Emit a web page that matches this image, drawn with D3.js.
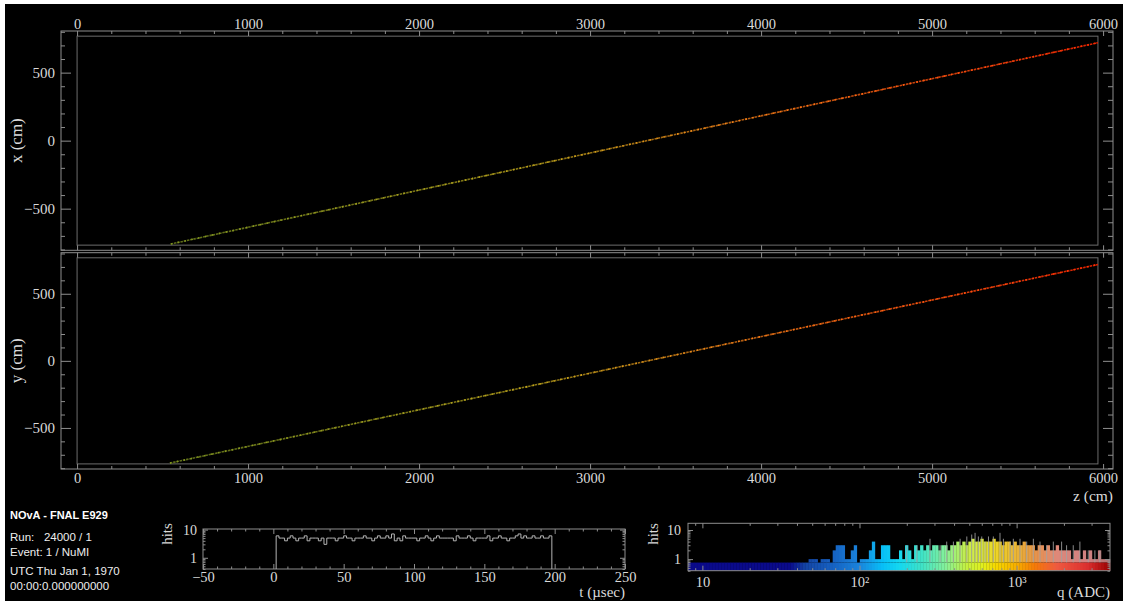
<!DOCTYPE html>
<html>
<head>
<meta charset="utf-8">
<script src="https://cdn.jsdelivr.net/npm/d3@7"></script>
<style>
  html, body { margin: 0; padding: 0; background: #fff; }
  svg { display: block; }
</style>
</head>
<body>
<svg id="evd" width="1123" height="601"></svg>
<script>
// ---- detector views (cm) ----
const detZ = [0, 5970];
const detT = [-768, 768];
const zAxisRange = [-94, 6058];
const tAxisRange = [-806, 806];
const zMajor = [0, 1000, 2000, 3000, 4000, 5000, 6000];
const tMajor = [-500, 0, 500];

// track end points [z, transverse] and charge profile along the track
const trackXZ = [[548, -760], [5970, 720]];
const trackYZ = [[543, -762], [5970, 718]];
const trackFrac = [0, 0.1, 0.2, 0.3, 0.4, 0.5, 0.6, 0.7, 0.8, 0.9, 1];
const trackQ = [380, 430, 500, 600, 720, 880, 1100, 1350, 1650, 1950, 2300];

// ---- timing histogram ----
const tStart = 2, tBin = 2;
const tCounts = [
  6, 5, 5, 4, 5, 6, 5, 4, 5, 5,
  6, 4, 5, 5, 5, 4, 5, 3, 5, 5,
  5, 4, 5, 5, 6, 5, 5, 4, 5, 5,
  5, 6, 5, 5, 4, 5, 6, 5, 5, 6,
  5, 7, 4, 5, 4, 6, 5, 5, 5, 5,
  4, 5, 5, 6, 5, 4, 5, 6, 5, 5,
  5, 5, 5, 4, 6, 5, 5, 5, 6, 5,
  4, 5, 5, 5, 5, 6, 4, 5, 5, 6,
  5, 5, 4, 5, 5, 6, 7, 5, 6, 5,
  5, 6, 5, 5, 6, 5, 5, 6
];
const tTicks = [-50, 0, 50, 100, 150, 200, 250];

// ---- charge histogram ----
const qRange = [8.1, 3930];
const qCounts = [
  0, 0, 0, 0, 0, 0, 0, 0, 0, 0,
  0, 0, 0, 0, 0, 0, 0, 0, 0, 0,
  0, 0, 0, 0, 0, 0, 0, 0, 0, 0,
  0, 0, 0, 0, 0, 0, 0, 0, 0, 0,
  1, 1, 1, 0, 1, 1, 1, 0, 2, 3,
  3, 3, 1, 1, 2, 3, 0, 1, 1, 1,
  2, 4, 1, 1, 3, 3, 3, 1, 1, 1,
  2, 1, 3, 2, 1, 3, 2, 3, 2, 3,
  2, 3, 3, 2, 3, 3, 2, 3, 3, 4,
  3, 4, 3, 4, 5, 4, 4, 5, 4, 4,
  4, 5, 4, 4, 3, 4, 4, 3, 4, 3,
  3, 4, 3, 3, 3, 2, 3, 3, 2, 3,
  2, 2, 3, 2, 2, 2, 2, 1, 2, 2,
  1, 2, 1, 2, 1, 1, 2, 1, 1, 1
];
const qSpikes = [
  [200, 3], [232, 3], [281, 5], [326, 3], [359, 4], [396, 4], [437, 5], [482, 6],
  [518, 7], [544, 8], [571, 6], [600, 6], [630, 4], [662, 6], [711, 6], [784, 8],
  [824, 5], [908, 4], [953, 5], [1051, 5], [1159, 4], [1278, 5], [1409, 4], [1553, 3],
  [1712, 4], [1934, 4], [2080, 3], [2293, 3], [2528, 4], [2857, 2], [3150, 2], [3390, 2]
];
const qTicks = [10, 100, 1000];
const qTickLabels = ['10', '10\u00b2', '10\u00b3'];

// ---- run info ----
const infoTitle = 'NOvA - FNAL E929';
const infoLines = ['Run:   24000 / 1', 'Event: 1 / NuMI', 'UTC Thu Jan 1, 1970', '00:00:0.000000000'];

// colour palette for charge
const palQ = [8, 36, 45, 70, 100, 140, 180, 250, 350, 480, 600, 750, 1000, 1300, 1800, 2800, 3930];
const palC = ['#0a0a8a', '#0a0a8a', '#1444a4', '#1664c4', '#1a84dc', '#08bef6', '#14d8f0', '#40e2c6',
  '#84f09c', '#c6f040', '#e0f020', '#f6d600', '#f6ae00', '#f47a08', '#ee5a40', '#dc3030', '#980000'];

const W = 1123, H = 601;
const SERIF = "'Liberation Serif','Times New Roman',serif";
const SANS = "'Liberation Sans',Arial,Helvetica,sans-serif";
const AXIS = '#8e8e8e', FRAME = '#6c6c6c', TXT = '#dadada';

const palette = d3.scaleLog().domain(palQ).range(palC).clamp(true);
const trackColor = d3.scaleLog()
  .domain([380, 700, 1200, 1800, 2300])
  .range(['#5c6c18', '#8a7a14', '#b85a10', '#d03c0a', '#dc2000'])
  .clamp(true);

const svg = d3.select('#evd');
svg.append('rect').attr('width', W).attr('height', H).attr('fill', '#fff');
svg.append('rect').attr('x', 5).attr('y', 4).attr('width', W - 5).attr('height', H - 4).attr('fill', '#000');
const defs = svg.append('defs');

// draws major (with optional labels) and minor ticks of one axis
function drawAxis(parent, make, translate, major, minor, opt) {
  const gMin = parent.append('g').attr('transform', translate)
    .call(make().tickValues(minor).tickSizeInner(-opt.minLen).tickSizeOuter(0).tickFormat(''));
  const gMaj = parent.append('g').attr('transform', translate)
    .call(make().tickValues(major).tickSizeInner(-opt.majLen).tickSizeOuter(0)
      .tickPadding(opt.pad || 3)
      .tickFormat(opt.labels ? (opt.fmt || d3.format('')) : ''));
  [gMin, gMaj].forEach(a => {
    a.select('.domain').remove();
    a.attr('font-size', null).attr('font-family', null);
    a.selectAll('.tick line').attr('stroke', AXIS);
    a.selectAll('text').attr('fill', TXT)
      .style('font-family', SERIF).style('font-size', (opt.font || 14.5) + 'px');
  });
  return gMaj;
}

// ---- the two detector views ----
const z = d3.scaleLinear().domain(zAxisRange).range([61, 1113]);
const zMinor = d3.range(0, 6001, 200).filter(v => v % 1000);
const tMinor = d3.range(-800, 801, 100).filter(v => v % 500);

const panels = [
  { name: 'xz', title: 'x (cm)', top: 31, bottom: 250.3, track: trackXZ, labelTop: true },
  { name: 'yz', title: 'y (cm)', top: 252.7, bottom: 469, track: trackYZ, labelBottom: true }
];

panels.forEach(p => {
  const v = d3.scaleLinear().domain(tAxisRange).range([p.bottom, p.top]);
  const g = svg.append('g');
  const [zl, zr] = z.range();

  g.append('rect')
    .attr('x', zl).attr('y', p.top).attr('width', zr - zl).attr('height', p.bottom - p.top)
    .attr('fill', 'none').attr('stroke', AXIS).attr('stroke-width', 1);
  g.append('rect')
    .attr('x', z(detZ[0])).attr('y', v(detT[1]))
    .attr('width', z(detZ[1]) - z(detZ[0])).attr('height', v(detT[0]) - v(detT[1]))
    .attr('fill', 'none').attr('stroke', FRAME).attr('stroke-width', 1);

  drawAxis(g, () => d3.axisTop(z), `translate(0,${p.top})`, zMajor, zMinor,
    { majLen: 5, minLen: 3, labels: p.labelTop, pad: 2 });
  drawAxis(g, () => d3.axisBottom(z), `translate(0,${p.bottom})`, zMajor, zMinor,
    { majLen: 5, minLen: 3, labels: p.labelBottom, pad: 3.5 });
  drawAxis(g, () => d3.axisLeft(v), `translate(${zl},0)`, tMajor, tMinor,
    { majLen: 10, minLen: 4, labels: true, pad: 6, font: 15 });
  drawAxis(g, () => d3.axisRight(v), `translate(${zr},0)`, tMajor, tMinor,
    { majLen: 10, minLen: 5, labels: false });

  // track hits
  const [a, b] = p.track;
  const x1 = z(a[0]), y1 = v(a[1]), x2 = z(b[0]), y2 = v(b[1]);
  const grad = defs.append('linearGradient').attr('id', 'trk-' + p.name)
    .attr('gradientUnits', 'userSpaceOnUse')
    .attr('x1', x1).attr('y1', y1).attr('x2', x2).attr('y2', y2);
  grad.selectAll('stop').data(trackFrac).join('stop')
    .attr('offset', d => d)
    .attr('stop-color', (d, i) => trackColor(trackQ[i]));
  const gradHi = defs.append('linearGradient').attr('id', 'trkhi-' + p.name)
    .attr('gradientUnits', 'userSpaceOnUse')
    .attr('x1', x1).attr('y1', y1).attr('x2', x2).attr('y2', y2);
  gradHi.selectAll('stop').data(trackFrac).join('stop')
    .attr('offset', d => d)
    .attr('stop-color', (d, i) => d3.color(trackColor(trackQ[i])).brighter(0.9).formatHex());

  g.append('line').attr('x1', x1).attr('y1', y1).attr('x2', x2).attr('y2', y2)
    .attr('stroke', `url(#trk-${p.name})`).attr('stroke-width', 1.6)
    .attr('stroke-dasharray', '2.5 0.8');
  g.append('line').attr('x1', x1).attr('y1', y1).attr('x2', x2).attr('y2', y2)
    .attr('stroke', `url(#trkhi-${p.name})`).attr('stroke-width', 1.6)
    .attr('stroke-dasharray', '1.5 5.5');

  g.append('text')
    .attr('transform', `translate(22,${(p.top + p.bottom) / 2}) rotate(-90)`)
    .attr('text-anchor', 'middle')
    .attr('fill', TXT).style('font-family', SERIF).style('font-size', '17px')
    .text(p.title);
});

svg.append('text').attr('x', 1113).attr('y', 501).attr('text-anchor', 'end')
  .attr('fill', TXT).style('font-family', SERIF).style('font-size', '15.5px')
  .text('z (cm)');

// ---- run info ----
svg.append('text').attr('x', 10).attr('y', 519)
  .attr('fill', '#fff').style('font-family', SANS).style('font-size', '11px').style('font-weight', 'bold')
  .text(infoTitle);
svg.selectAll('.info').data(infoLines).join('text').attr('class', 'info')
  .attr('x', 10).attr('y', (d, i) => [541, 556, 575, 590][i])
  .attr('fill', '#eee').style('font-family', SANS).style('font-size', '11.5px')
  .style('white-space', 'pre')
  .text(d => d);

// log axis minor ticks helper
function logMinor(lo, hi) {
  const out = [];
  for (let dec = 0.1; dec <= 1000; dec *= 10)
    for (let k = 1; k <= 9; k++) {
      const val = +(k * dec).toPrecision(3);
      if (val >= lo && val <= hi) out.push(val);
    }
  return out;
}

// ---- timing histogram ----
{
  const tx = d3.scaleLinear().domain([-50, 250]).range([203, 625]);
  const ty = d3.scaleLog().domain([0.4, 10.5]).range([569, 529]);
  const g = svg.append('g');
  g.append('rect').attr('x', 203).attr('y', 529).attr('width', 422).attr('height', 40)
    .attr('fill', 'none').attr('stroke', AXIS);

  const floor = ty.domain()[0];
  const pts = [[tStart, floor]]
    .concat(tCounts.map((c, i) => [tStart + i * tBin, c]))
    .concat([[tStart + tCounts.length * tBin, floor]]);
  g.append('path')
    .attr('d', d3.line().x(d => tx(d[0])).y(d => ty(d[1])).curve(d3.curveStepAfter)(pts))
    .attr('fill', 'none').attr('stroke', '#b4b4b4').attr('stroke-width', 1);

  const tMin = d3.range(-50, 251, 10).filter(v => v % 50);
  drawAxis(g, () => d3.axisBottom(tx), 'translate(0,569)', tTicks, tMin,
    { majLen: 5, minLen: 2.5, labels: true, pad: 3, font: 14.5 });
  drawAxis(g, () => d3.axisTop(tx), 'translate(0,529)', tTicks, tMin,
    { majLen: 5, minLen: 2.5, labels: false });
  const yMin = logMinor(0.4, 10.5).filter(v => v !== 1 && v !== 10);
  drawAxis(g, () => d3.axisLeft(ty), 'translate(203,0)', [1, 10], yMin,
    { majLen: 5, minLen: 2.5, labels: true, pad: 6, font: 14, fmt: d => String(d) });
  drawAxis(g, () => d3.axisRight(ty), 'translate(625,0)', [1, 10], yMin,
    { majLen: 5, minLen: 2.5, labels: false });

  g.append('text').attr('transform', 'translate(172,534) rotate(-90)').attr('text-anchor', 'middle')
    .attr('fill', TXT).style('font-family', SERIF).style('font-size', '15px').text('hits');
  g.append('text').attr('x', 625).attr('y', 597).attr('text-anchor', 'end')
    .attr('fill', TXT).style('font-family', SERIF).style('font-size', '15px').text('t (\u00b5sec)');
}

// ---- charge histogram ----
{
  const qx = d3.scaleLog().domain(qRange).range([688, 1110]);
  const qy = d3.scaleLog().domain([0.4, 17]).range([570.7, 523.3]);
  const g = svg.append('g');
  const n = qCounts.length;
  const l0 = Math.log10(qRange[0]), dl = (Math.log10(qRange[1]) - l0) / n;
  const bins = qCounts.map((c, i) => ({
    lo: Math.pow(10, l0 + i * dl),
    hi: Math.pow(10, l0 + (i + 1) * dl),
    mid: Math.pow(10, l0 + (i + 0.5) * dl),
    c
  }));
  const pale = d3.scaleLog().domain([350, 3000]).range([0, 0.55]).clamp(true);
  const bandTop = 0.76;

  g.selectAll('.qbar').data(bins.filter(d => d.c > 0)).join('rect').attr('class', 'qbar')
    .attr('x', d => qx(d.lo)).attr('width', d => qx(d.hi) - qx(d.lo) + 0.3)
    .attr('y', d => qy(d.c)).attr('height', d => qy(bandTop) - qy(d.c))
    .attr('fill', d => d3.interpolateRgb(palette(d.mid), '#c8c8c8')(pale(d.mid)));

  g.selectAll('.qspike').data(qSpikes).join('line').attr('class', 'qspike')
    .attr('x1', d => qx(d[0])).attr('x2', d => qx(d[0]))
    .attr('y1', qy(bandTop)).attr('y2', d => qy(d[1]))
    .attr('stroke', '#a2a2a2').attr('stroke-width', 1).attr('opacity', 0.85);

  g.selectAll('.qband').data(bins).join('rect').attr('class', 'qband')
    .attr('x', d => qx(d.lo)).attr('width', d => qx(d.hi) - qx(d.lo) + 0.3)
    .attr('y', qy(bandTop)).attr('height', qy.range()[0] - qy(bandTop))
    .attr('fill', d => palette(d.mid));

  g.append('rect').attr('x', 688).attr('y', 523.3).attr('width', 422).attr('height', 47.4)
    .attr('fill', 'none').attr('stroke', AXIS);

  const xMin = logMinor(qRange[0], qRange[1]).filter(v => !qTicks.includes(v));
  drawAxis(g, () => d3.axisBottom(qx), 'translate(0,570.7)', qTicks, xMin,
    { majLen: 5, minLen: 2.5, labels: true, pad: 6, font: 14.5,
      fmt: d => qTickLabels[qTicks.indexOf(d)] });
  drawAxis(g, () => d3.axisTop(qx), 'translate(0,523.3)', qTicks, xMin,
    { majLen: 5, minLen: 2.5, labels: false });
  const yMin = logMinor(0.4, 17).filter(v => v !== 1 && v !== 10);
  drawAxis(g, () => d3.axisLeft(qy), 'translate(688,0)', [1, 10], yMin,
    { majLen: 5, minLen: 2.5, labels: true, pad: 7, font: 14, fmt: d => String(d) });
  drawAxis(g, () => d3.axisRight(qy), 'translate(1110,0)', [1, 10], yMin,
    { majLen: 5, minLen: 2.5, labels: false });

  g.append('text').attr('transform', 'translate(658,534) rotate(-90)').attr('text-anchor', 'middle')
    .attr('fill', TXT).style('font-family', SERIF).style('font-size', '15px').text('hits');
  g.append('text').attr('x', 1110).attr('y', 597).attr('text-anchor', 'end')
    .attr('fill', TXT).style('font-family', SERIF).style('font-size', '15px').text('q (ADC)');
}
</script>
</body>
</html>
